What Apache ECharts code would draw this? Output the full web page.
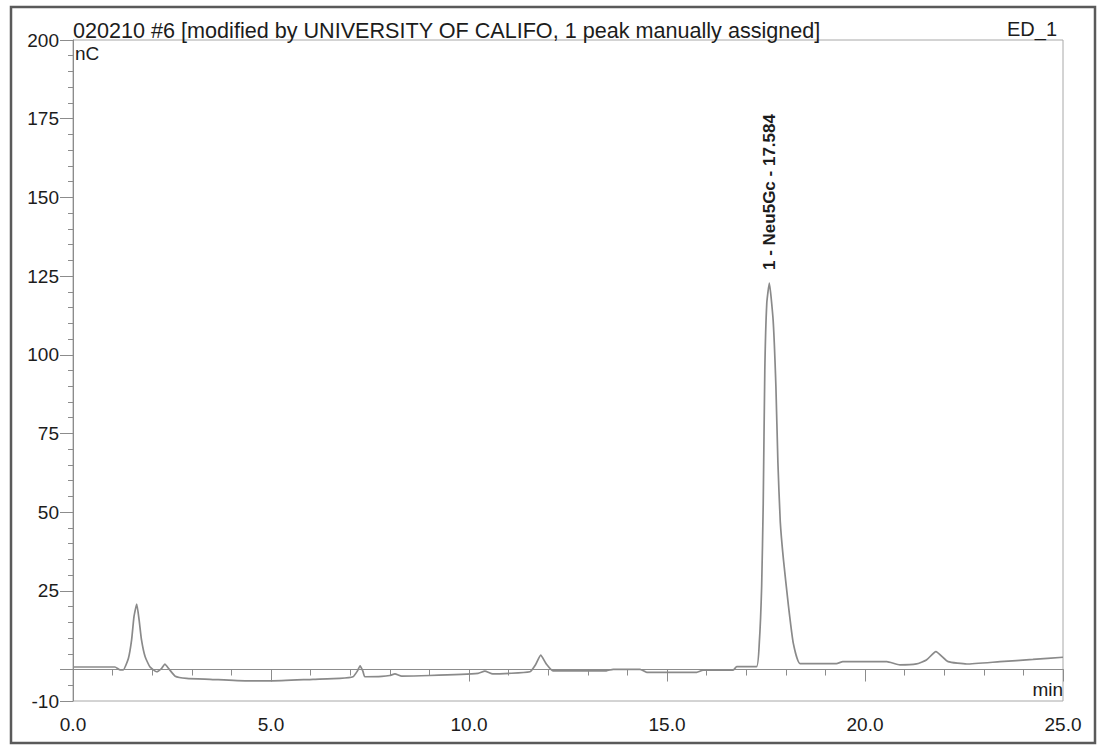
<!DOCTYPE html>
<html>
<head>
<meta charset="utf-8">
<title>020210 #6 ED_1</title>
<script src="https://cdn.jsdelivr.net/npm/echarts@6/dist/echarts.min.js"></script>
<style>
  html, body { margin: 0; padding: 0; background: #fff; }
  #chart { width: 1098px; height: 745px; }
</style>
</head>
<body>
<div id="chart"></div>
<script>
//--------------------- Data ---------------------------//
// Retention time (min) and detector response (nC)
const times = [
  0, 1.06, 1.19, 1.27, 1.40, 1.48, 1.54, 1.61, 1.67, 1.73, 1.82, 1.94,
  2.11, 2.24, 2.32, 2.41, 2.58, 2.87, 3.46, 4.38, 5.0, 6.06, 6.74,
  7.07, 7.18, 7.25, 7.32, 7.37, 7.8, 8.0, 8.13, 8.3, 9.0, 10.23, 10.4,
  10.6, 11.54, 11.68, 11.81, 11.95, 12.12, 13.47, 13.64, 14.32, 14.49,
  15.75, 15.91, 16.67, 16.76, 17.26, 17.33, 17.39, 17.43, 17.47, 17.52,
  17.584, 17.68, 17.75, 17.80, 17.86, 17.94, 18.06, 18.19, 18.36, 19.28, 19.44,
  20.55, 20.88, 21.3, 21.55, 21.79, 22.1, 22.57, 23.41, 24.24, 25
];
const response = [
  0.8, 0.8, -0.1, -0.1, 3.6, 9.4, 16.8, 20.8, 15.7, 9.4, 4.1, 0.9,
  -0.7, 0.4, 1.75, 0.4, -2.1, -2.8, -3.1, -3.6, -3.6, -3.1, -2.8,
  -2.3, -0.5, 1.2, -0.5, -2.3, -2.2, -1.9, -1.4, -2.1, -1.9, -1.2, -0.5,
  -1.4, -0.7, 1.5, 4.6, 1.8, -0.4, -0.4, 0.07, 0.07, -0.9,
  -0.9, -0.2, -0.2, 0.9, 0.9, 8.3, 26.3, 52.8, 95.1, 116.4,
  122.8, 111, 90, 66, 47, 35, 21, 8.3, 1.9, 1.9, 2.5,
  2.5, 1.5, 1.8, 3.0, 5.7, 2.5, 1.75, 2.5, 3.2, 3.9
];

// Peak annotation
const peakTime = 17.584;
const peakHeight = 122.8;
const peakLabel = '1 - Neu5Gc - 17.584';

// Tick labels
const yLabelValues = [-10, 25, 50, 75, 100, 125, 150, 175, 200];
const yMajorTicks = [-10, 0, 25, 50, 75, 100, 125, 150, 175, 200];

const titleText = '020210 #6 [modified by UNIVERSITY OF CALIFO, 1 peak manually assigned]';
const channelText = 'ED_1';

//--------------------- Chart ---------------------------//
const FONT = '"Liberation Sans", Arial, sans-serif';
const AXIS_COLOR = '#8c8c8c';
const TEXT_COLOR = '#1c1c1c';

const seriesData = times.map((t, i) => [t, response[i]]);

const chartDom = document.getElementById('chart');
const myChart = echarts.init(chartDom, null, { renderer: 'svg' });

const option = {
  animation: false,
  backgroundColor: '#fff',
  grid: {
    left: 73, right: 35, top: 40, bottom: 44,
    containLabel: false,
    show: true,
    borderColor: '#a8a8a8',
    borderWidth: 1
  },
  xAxis: [
    {
      type: 'value', position: 'bottom',
      min: 0, max: 25, interval: 5,
      splitLine: { show: false },
      axisLine: { lineStyle: { color: AXIS_COLOR, width: 1 } },
      axisTick: { length: 12, lineStyle: { color: AXIS_COLOR } },
      axisLabel: {
        margin: 14,
        fontFamily: FONT, fontSize: 19, color: TEXT_COLOR,
        formatter: (v) => v.toFixed(1)
      }
    },
    {
      type: 'value', position: 'bottom',
      min: 0, max: 25, interval: 1,
      splitLine: { show: false },
      axisLine: { show: false },
      axisTick: { length: 6, lineStyle: { color: AXIS_COLOR } },
      axisLabel: { show: false }
    }
  ],
  yAxis: [
    {
      type: 'value', position: 'left',
      min: -10, max: 200, interval: 5,
      splitLine: { show: false },
      axisLine: { show: true, lineStyle: { color: AXIS_COLOR, width: 1 } },
      axisTick: { show: true, length: 13, customValues: yMajorTicks, lineStyle: { color: AXIS_COLOR } },
      axisLabel: {
        margin: 14,
        customValues: yLabelValues,
        fontFamily: FONT, fontSize: 19, color: TEXT_COLOR
      }
    },
    {
      type: 'value', position: 'left',
      min: -10, max: 200, interval: 5,
      splitLine: { show: false },
      axisLine: { show: false },
      axisTick: { show: true, length: 5, lineStyle: { color: AXIS_COLOR } },
      axisLabel: { show: false }
    }
  ],
  series: [
    {
      type: 'line',
      xAxisIndex: 0,
      yAxisIndex: 0,
      data: seriesData,
      showSymbol: false,
      symbol: 'none',
      smooth: 0.15,
      lineStyle: { color: '#8a8a8a', width: 1.7 },
      silent: true,
      markPoint: {
        silent: true,
        symbol: 'circle',
        symbolSize: 0,
        data: [{ coord: [peakTime, peakHeight] }],
        label: {
          show: true,
          formatter: peakLabel,
          position: 'top',
          distance: 13,
          rotate: 90,
          align: 'left',
          verticalAlign: 'middle',
          fontFamily: FONT,
          fontSize: 17,
          fontWeight: 'bold',
          color: TEXT_COLOR
        }
      }
    }
  ],
  graphic: [
    {
      type: 'rect',
      shape: { x: 11, y: 7, width: 1084, height: 736 },
      style: { fill: 'none', stroke: '#5a5a5a', lineWidth: 2.5 },
      silent: true
    },
    {
      type: 'text', left: 73, top: 19,
      style: { text: titleText, font: '21.6px ' + FONT, fill: TEXT_COLOR }
    },
    {
      type: 'text', right: 41, top: 19,
      style: { text: channelText, font: '20px ' + FONT, fill: TEXT_COLOR }
    },
    {
      type: 'text', left: 75, top: 44,
      style: { text: 'nC', font: '19px ' + FONT, fill: TEXT_COLOR }
    },
    {
      type: 'text', right: 35, top: 680,
      style: { text: 'min', font: '19px ' + FONT, fill: TEXT_COLOR }
    }
  ]
};

option && myChart.setOption(option);
</script>
</body>
</html>
